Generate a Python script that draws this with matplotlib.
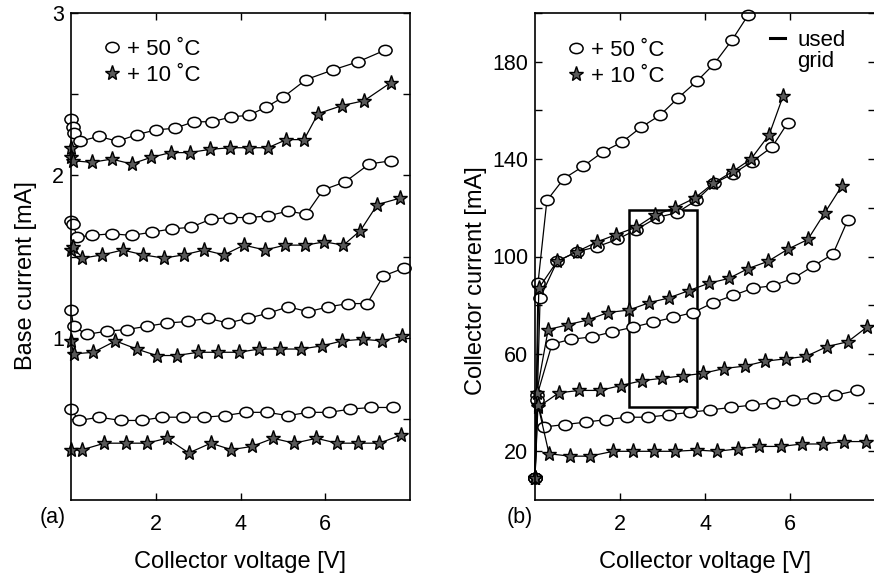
import numpy as np
import matplotlib
matplotlib.use("Agg")
import matplotlib.pyplot as plt
from matplotlib.path import Path
from matplotlib.markers import MarkerStyle
from matplotlib.transforms import Affine2D
from matplotlib.lines import Line2D
from matplotlib.patches import Rectangle
from matplotlib.ticker import FixedLocator, FuncFormatter

plt.rcParams['font.family'] = ['Liberation Sans', 'DejaVu Sans']

# ---- (a) base current vs collector voltage ----
base_v_50 = [
    [0.0, 0.04, 0.08, 0.22, 0.65, 1.1, 1.55, 2.0, 2.45, 2.9, 3.33, 3.78, 4.2, 4.6, 5.0, 5.55, 6.19, 6.78, 7.4],
    [0.0, 0.04, 0.15, 0.49, 0.96, 1.43, 1.91, 2.38, 2.83, 3.3, 3.75, 4.2, 4.65, 5.12, 5.55, 5.95, 6.47, 7.04, 7.56],
    [0.0, 0.06, 0.37, 0.84, 1.31, 1.79, 2.26, 2.76, 3.23, 3.7, 4.18, 4.65, 5.12, 5.6, 6.07, 6.54, 6.99, 7.37, 7.87],
    [0.0, 0.18, 0.67, 1.17, 1.67, 2.14, 2.64, 3.14, 3.63, 4.13, 4.63, 5.12, 5.6, 6.1, 6.59, 7.09, 7.59],
]
base_i_50 = [
    [2.35, 2.30, 2.26, 2.21, 2.24, 2.21, 2.25, 2.28, 2.29, 2.33, 2.33, 2.36, 2.37, 2.42, 2.48, 2.59, 2.65, 2.70, 2.77],
    [1.72, 1.70, 1.62, 1.63, 1.64, 1.63, 1.65, 1.67, 1.68, 1.73, 1.74, 1.74, 1.75, 1.78, 1.76, 1.91, 1.96, 2.07, 2.09],
    [1.17, 1.07, 1.02, 1.04, 1.05, 1.07, 1.09, 1.10, 1.12, 1.09, 1.12, 1.15, 1.19, 1.16, 1.19, 1.21, 1.21, 1.38, 1.43],
    [0.56, 0.49, 0.51, 0.49, 0.49, 0.51, 0.51, 0.51, 0.52, 0.54, 0.54, 0.52, 0.54, 0.54, 0.56, 0.57, 0.57],
]
base_v_10 = [
    [0.0, 0.01, 0.04, 0.49, 0.96, 1.43, 1.88, 2.35, 2.8, 3.28, 3.75, 4.2, 4.65, 5.08, 5.5, 5.83, 6.4, 6.92, 7.54],
    [0.0, 0.04, 0.27, 0.74, 1.22, 1.71, 2.19, 2.66, 3.14, 3.61, 4.08, 4.58, 5.05, 5.53, 5.98, 6.43, 6.83, 7.23, 7.77],
    [0.0, 0.06, 0.53, 1.05, 1.55, 2.02, 2.5, 2.99, 3.47, 3.96, 4.44, 4.93, 5.43, 5.93, 6.4, 6.88, 7.35, 7.8],
    [0.0, 0.27, 0.79, 1.29, 1.79, 2.26, 2.78, 3.3, 3.78, 4.27, 4.77, 5.27, 5.79, 6.28, 6.78, 7.28, 7.78],
]
base_i_10 = [
    [2.17, 2.11, 2.09, 2.08, 2.10, 2.07, 2.11, 2.14, 2.14, 2.16, 2.17, 2.17, 2.17, 2.22, 2.22, 2.38, 2.43, 2.46, 2.57],
    [1.54, 1.56, 1.49, 1.51, 1.54, 1.51, 1.49, 1.51, 1.54, 1.51, 1.57, 1.54, 1.57, 1.57, 1.59, 1.57, 1.66, 1.82, 1.86],
    [0.98, 0.90, 0.91, 0.98, 0.93, 0.89, 0.89, 0.91, 0.91, 0.91, 0.93, 0.93, 0.93, 0.95, 0.98, 0.99, 0.98, 1.01],
    [0.31, 0.31, 0.35, 0.35, 0.35, 0.38, 0.29, 0.35, 0.31, 0.33, 0.38, 0.35, 0.38, 0.35, 0.35, 0.35, 0.40],
]

# ---- (b) collector current vs collector voltage ----
coll_v_50 = [
    [0.0, 0.07, 0.28, 0.68, 1.13, 1.6, 2.05, 2.49, 2.94, 3.36, 3.81, 4.21, 4.64, 5.01],
    [0.0, 0.12, 0.52, 0.99, 1.46, 1.93, 2.38, 2.87, 3.34, 3.79, 4.21, 4.66, 5.11, 5.58, 5.95],
    [0.0, 0.05, 0.4, 0.85, 1.34, 1.81, 2.31, 2.78, 3.25, 3.72, 4.19, 4.66, 5.13, 5.6, 6.07, 6.54, 7.01, 7.36],
    [0.0, 0.05, 0.21, 0.71, 1.2, 1.67, 2.16, 2.66, 3.15, 3.65, 4.12, 4.61, 5.11, 5.6, 6.07, 6.56, 7.06, 7.58],
]
coll_i_50 = [
    [9, 89, 123, 132, 137, 143, 147, 153, 158, 165, 172, 179, 189, 199],
    [9, 83, 98, 102, 104, 107, 111, 116, 118, 123, 130, 134, 139, 145, 155],
    [9, 43, 64, 66, 67, 69, 71, 73, 75, 77, 81, 84, 87, 88, 91, 96, 101, 115],
    [9, 41, 30, 31, 32, 33, 34, 34, 35, 36, 37, 38, 39, 40, 41, 42, 43, 45],
]
coll_v_10 = [
    [0.0, 0.09, 0.52, 0.99, 1.46, 1.91, 2.38, 2.82, 3.29, 3.76, 4.19, 4.66, 5.08, 5.51, 5.84],
    [0.0, 0.04, 0.31, 0.78, 1.25, 1.72, 2.21, 2.68, 3.15, 3.62, 4.09, 4.56, 5.01, 5.48, 5.95, 6.42, 6.82, 7.22],
    [0.0, 0.06, 0.56, 1.04, 1.53, 2.02, 2.52, 2.99, 3.48, 3.95, 4.45, 4.94, 5.41, 5.91, 6.38, 6.87, 7.36, 7.81],
    [0.0, 0.07, 0.33, 0.82, 1.29, 1.84, 2.31, 2.8, 3.29, 3.81, 4.28, 4.78, 5.27, 5.79, 6.28, 6.78, 7.27, 7.79],
]
coll_i_10 = [
    [9, 87, 98, 102, 106, 109, 112, 117, 120, 124, 130, 135, 140, 150, 166],
    [9, 44, 70, 72, 74, 77, 78, 81, 83, 86, 89, 91, 95, 98, 103, 107, 118, 129],
    [9, 38, 44, 45, 45, 47, 49, 50, 51, 52, 54, 55, 57, 58, 59, 63, 65, 71],
    [9, 39, 19, 18, 18, 20, 20, 20, 20, 20.5, 20, 21, 22, 22, 23, 23, 24, 24],
]

# used grid window
grid_v = (2.2, 3.8)
grid_i = (38, 119)

legend_labels = ['+ 50 ˚C', '+ 10 ˚C']

ellipse = MarkerStyle(Path.unit_circle().transformed(Affine2D().scale(1.0, 0.78)))
circ_kw = dict(color='k', lw=0.9, marker=ellipse, ms=9.5, mfc='white', mec='k', mew=1.1, clip_on=False)
star_kw = dict(color='k', lw=0.9, marker='*', ms=11, mfc='0.35', mec='k', mew=1.0, clip_on=False)

fig = plt.figure(figsize=(8.74, 5.77), dpi=100)
ax1 = fig.add_axes([71 / 874, 77 / 577, 339 / 874, 487 / 577])
ax2 = fig.add_axes([535 / 874, 77 / 577, 340 / 874, 487 / 577])

for v, i in zip(base_v_50, base_i_50):
    ax1.plot(v, i, **circ_kw)
for v, i in zip(base_v_10, base_i_10):
    ax1.plot(v, i, **star_kw)
for v, i in zip(coll_v_50, coll_i_50):
    ax2.plot(v, i, **circ_kw)
for v, i in zip(coll_v_10, coll_i_10):
    ax2.plot(v, i, **star_kw)

ax2.add_patch(Rectangle((grid_v[0], grid_i[0]), grid_v[1] - grid_v[0], grid_i[1] - grid_i[0],
                        fill=False, ec='k', lw=1.8))

ax1.set_xlim(0, 8)
ax1.set_ylim(0, 3)
ax2.set_xlim(0, 8)
ax2.set_ylim(0, 200)

for ax in (ax1, ax2):
    ax.xaxis.set_major_locator(FixedLocator([2, 4, 6]))
    ax.tick_params(direction='in', top=True, right=True, length=5, width=1, labelsize=15.5)
    ax.tick_params(axis='x', pad=10)
    ax.tick_params(axis='y', pad=5)
    for s in ax.spines.values():
        s.set_linewidth(1.2)
    ax.set_xlabel('Collector voltage [V]', fontsize=17)
    ax.xaxis.set_label_coords(0.5, -0.105)

ax1.yaxis.set_major_locator(FixedLocator([0.5, 1, 1.5, 2, 2.5, 3]))
ax1.yaxis.set_major_formatter(FuncFormatter(lambda y, p: f'{y:.0f}' if y == int(y) else ''))
ax2.yaxis.set_major_locator(FixedLocator(list(range(20, 201, 20))))
ax2.yaxis.set_major_formatter(FuncFormatter(lambda y, p: f'{y:.0f}' if y % 40 == 20 else ''))

ax1.set_ylabel('Base current [mA]', fontsize=17)
ax1.yaxis.set_label_coords(-0.10, 0.46)
ax2.set_ylabel('Collector current [mA]', fontsize=17)
ax2.yaxis.set_label_coords(-0.141, 0.45)

fig.text(66 / 874, 1 - 517 / 577, '(a)', fontsize=15.5, ha='right', va='center')
fig.text(533 / 874, 1 - 517 / 577, '(b)', fontsize=15.5, ha='right', va='center')

# legends
def temp_handles():
    return [Line2D([], [], ls='none', marker=ellipse, ms=9.5, mfc='white', mec='k', mew=1.1),
            Line2D([], [], ls='none', marker='*', ms=11, mfc='0.35', mec='k', mew=1.0)]

leg_kw = dict(frameon=False, fontsize=16, handlelength=1.0, handletextpad=0.18,
              labelspacing=0.23, borderpad=0, borderaxespad=0, loc='upper left')
ax1.legend(temp_handles(), legend_labels, bbox_to_anchor=((101 - 71) / 339, 0.947), **leg_kw)
leg2 = ax2.legend(temp_handles(), legend_labels, bbox_to_anchor=((565 - 535) / 340, 0.945), **leg_kw)
ax2.add_artist(leg2)
grid_handles = [Line2D([], [], color='k', lw=2.2), Line2D([], [], ls='none')]
ax2.legend(grid_handles, ['used', 'grid'], frameon=False, fontsize=16, handlelength=0.68,
           handletextpad=0.55, labelspacing=0.0, borderpad=0, borderaxespad=0,
           loc='upper left', bbox_to_anchor=((770 - 535) / 340, 0.966))

fig.savefig('out.png', dpi=100)
